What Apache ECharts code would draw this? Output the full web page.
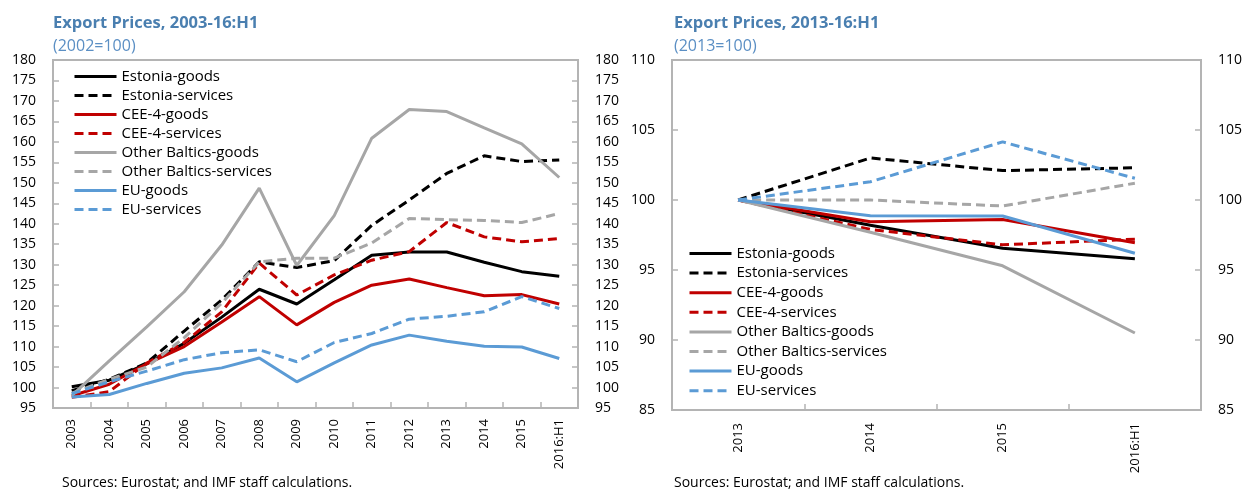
<!DOCTYPE html>
<html lang="en">
<head>
    <meta charset="UTF-8">
    <title>Export Prices</title>
    <script src="https://cdn.jsdelivr.net/npm/echarts@6/dist/echarts.min.js"></script>
    <style>
        html, body { margin: 0; padding: 0; background: #fff; }
        #chart { width: 1248px; height: 492px; }
    </style>
</head>
<body>
    <div id="chart"></div>

    <script>
        // 左图：2003-16:H1（2002=100）
        var yearsA = ['2003', '2004', '2005', '2006', '2007', '2008', '2009', '2010', '2011', '2012', '2013', '2014', '2015', '2016:H1'];
        var estGoodsA = [100.2, 101.8, 105.8, 110.8, 117.2, 124.0, 120.4, 126.3, 132.3, 133.1, 133.1, 130.6, 128.3, 127.2];
        var estServA = [99.2, 102.0, 106.0, 113.8, 121.4, 130.7, 129.3, 131.0, 139.6, 145.8, 152.3, 156.6, 155.2, 155.6];
        var ceeGoodsA = [98.0, 100.8, 105.8, 110.0, 116.0, 122.2, 115.3, 120.8, 125.0, 126.5, 124.4, 122.4, 122.7, 120.4];
        var ceeServA = [97.6, 99.0, 106.0, 111.0, 118.5, 130.4, 122.6, 127.5, 131.1, 133.2, 140.3, 136.8, 135.6, 136.4];
        var obGoodsA = [98.0, 106.5, 114.8, 123.4, 134.8, 148.7, 129.8, 142.0, 160.9, 167.9, 167.4, 163.4, 159.5, 151.3];
        var obServA = [98.6, 102.0, 105.0, 112.2, 120.6, 130.7, 131.6, 131.6, 135.3, 141.3, 141.0, 140.8, 140.3, 142.5];
        var euGoodsA = [97.7, 98.3, 101.0, 103.5, 104.8, 107.2, 101.4, 106.0, 110.4, 112.8, 111.3, 110.1, 109.9, 107.1];
        var euServA = [98.5, 101.4, 104.0, 106.8, 108.5, 109.2, 106.3, 111.0, 113.2, 116.7, 117.4, 118.5, 122.2, 119.3];

        // 右图：2013-16:H1（2013=100）
        var yearsB = ['2013', '2014', '2015', '2016:H1'];
        var estGoodsB = [100, 98.2, 96.55, 95.8];
        var estServB = [100, 103.0, 102.1, 102.3];
        var ceeGoodsB = [100, 98.45, 98.6, 96.95];
        var ceeServB = [100, 97.9, 96.8, 97.2];
        var obGoodsB = [100, 97.7, 95.3, 90.5];
        var obServB = [100, 100.0, 99.57, 101.2];
        var euGoodsB = [100, 98.88, 98.86, 96.2];
        var euServB = [100, 101.3, 104.15, 101.55];

        var names = ['Estonia-goods', 'Estonia-services', 'CEE-4-goods', 'CEE-4-services',
            'Other Baltics-goods', 'Other Baltics-services', 'EU-goods', 'EU-services'];
        var colors = ['#000000', '#000000', '#c00000', '#c00000', '#a6a6a6', '#a6a6a6', '#5b9bd5', '#5b9bd5'];
        var dataA = [estGoodsA, estServA, ceeGoodsA, ceeServA, obGoodsA, obServA, euGoodsA, euServA];
        var dataB = [estGoodsB, estServB, ceeGoodsB, ceeServB, obGoodsB, obServB, euGoodsB, euServB];

        var FONT = 'Open Sans';
        var axisGrey = '#b4b4b4';

        function makeSeries(data, idx) {
            return data.map(function (d, i) {
                return {
                    name: names[i],
                    type: 'line',
                    xAxisIndex: idx,
                    yAxisIndex: idx * 2,
                    data: d,
                    symbol: 'none',
                    lineStyle: {
                        color: colors[i],
                        width: 3,
                        type: i % 2 === 1 ? [9, 5] : 'solid'
                    },
                    itemStyle: { color: colors[i] }
                };
            });
        }

        function yAxisPair(gridIndex, min, max) {
            var base = {
                gridIndex: gridIndex,
                type: 'value',
                min: min,
                max: max,
                interval: 5,
                axisLine: { show: true, lineStyle: { color: axisGrey, width: 2 } },
                axisTick: { show: true, inside: true, length: 6, lineStyle: { color: axisGrey, width: 1.5 } },
                splitLine: { show: false },
                axisLabel: { color: '#000', fontSize: 14, fontFamily: FONT, margin: 17 }
            };
            var left = echarts.util.merge({ position: 'left' }, base, true);
            var right = echarts.util.merge({ position: 'right' }, base, true);
            return [left, right];
        }

        function xAxis(gridIndex, cats, margin) {
            return {
                gridIndex: gridIndex,
                type: 'category',
                data: cats,
                boundaryGap: true,
                axisLine: { show: true, lineStyle: { color: axisGrey, width: 2 } },
                axisTick: { show: true, inside: true, length: 6, lineStyle: { color: axisGrey, width: 1.5 } },
                axisLabel: { color: '#000', fontSize: 13, fontFamily: FONT, rotate: 90, margin: margin, interval: 0 }
            };
        }

        var legendBase = {
            orient: 'vertical',
            data: names,
            itemWidth: 42,
            itemHeight: 14,
            itemGap: 4,
            padding: 0,
            selectedMode: false,
            itemStyle: { opacity: 0 },
            lineStyle: { width: 3 },
            textStyle: { color: '#000', fontSize: 15, fontFamily: FONT }
        };

        var titleBlue = '#4a7fb0';
        var myChart = echarts.init(document.getElementById('chart'), null, { renderer: 'canvas' });

        function txt(text, left, top, size, color, weight) {
            return {
                text: text, left: left, top: top, padding: 0,
                textStyle: { color: color, fontSize: size, fontWeight: weight, fontFamily: FONT }
            };
        }

        var option = {
            animation: false,
            backgroundColor: '#fff',
            title: [
                txt('Export Prices, 2003-16:H1', 53, 15, 16.5, titleBlue, 'bold'),
                txt('(2002=100)', 53, 38, 16, '#5b8fc4', 'normal'),
                txt('Export Prices, 2013-16:H1', 674, 15, 16.5, titleBlue, 'bold'),
                txt('(2013=100)', 674, 38, 16, '#5b8fc4', 'normal'),
                txt('Sources: Eurostat; and IMF staff calculations.', 62, 476, 14, '#000', 'normal'),
                txt('Sources: Eurostat; and IMF staff calculations.', 674, 476, 14, '#000', 'normal')
            ],
            legend: [
                Object.assign({}, legendBase, { left: 73, top: 69 }),
                Object.assign({}, legendBase, { left: 688, top: 246, itemGap: 4.6 })
            ],
            grid: [
                { left: 53, top: 60, width: 525, height: 348, show: true, borderColor: axisGrey, borderWidth: 2, containLabel: false },
                { left: 672, top: 60, width: 529, height: 350, show: true, borderColor: axisGrey, borderWidth: 2, containLabel: false }
            ],
            xAxis: [xAxis(0, yearsA, 11), xAxis(1, yearsB, 13)],
            yAxis: yAxisPair(0, 95, 180).concat(yAxisPair(1, 85, 110)),
            series: makeSeries(dataA, 0).concat(makeSeries(dataB, 1))
        };

        myChart.setOption(option);
    </script>
</body>
</html>
